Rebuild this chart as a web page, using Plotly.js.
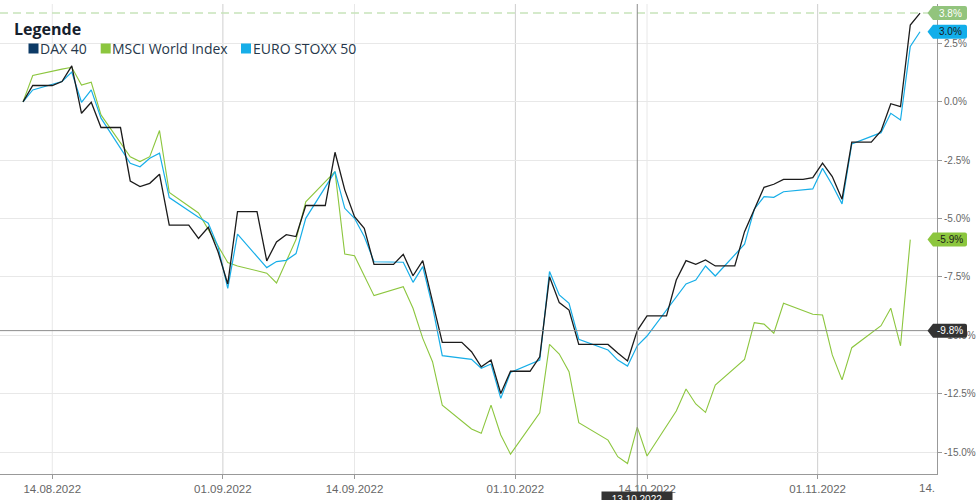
<!DOCTYPE html>
<html>
<head>
<meta charset="utf-8">
<script src="https://cdn.plot.ly/plotly-3.0.1.min.js"></script>
<style>
html,body{margin:0;padding:0;background:#fff;}
#chart{width:980px;height:500px;}
</style>
</head>
<body>
<div id="chart"></div>
<script>
// ---------- DATA ----------
const days = [
 '2022-08-11','2022-08-12','2022-08-13','2022-08-14','2022-08-15','2022-08-16','2022-08-17','2022-08-18','2022-08-19','2022-08-20','2022-08-21',
 '2022-08-22','2022-08-23','2022-08-24','2022-08-25','2022-08-26','2022-08-27','2022-08-28',
 '2022-08-29','2022-08-30','2022-08-31','2022-09-01','2022-09-02','2022-09-03','2022-09-04',
 '2022-09-05','2022-09-06','2022-09-07','2022-09-08','2022-09-09','2022-09-10','2022-09-11',
 '2022-09-12','2022-09-13','2022-09-14','2022-09-15','2022-09-16','2022-09-17','2022-09-18',
 '2022-09-19','2022-09-20','2022-09-21','2022-09-22','2022-09-23','2022-09-24','2022-09-25',
 '2022-09-26','2022-09-27','2022-09-28','2022-09-29','2022-09-30','2022-10-01','2022-10-02',
 '2022-10-03','2022-10-04','2022-10-05','2022-10-06','2022-10-07','2022-10-08','2022-10-09',
 '2022-10-10','2022-10-11','2022-10-12','2022-10-13','2022-10-14','2022-10-15','2022-10-16',
 '2022-10-17','2022-10-18','2022-10-19','2022-10-20','2022-10-21','2022-10-22','2022-10-23',
 '2022-10-24','2022-10-25','2022-10-26','2022-10-27','2022-10-28','2022-10-29','2022-10-30',
 '2022-10-31','2022-11-01','2022-11-02','2022-11-03','2022-11-04','2022-11-05','2022-11-06',
 '2022-11-07','2022-11-08','2022-11-09','2022-11-10','2022-11-11'
];

const dax40 = [
 0, 0.70, 0.70, 0.70, 0.87, 1.54, -0.49, -0.02, -1.10, -1.10, -1.10,
 -3.39, -3.63, -3.49, -3.10, -5.28, -5.28, -5.28,
 -5.85, -5.37, -6.42, -7.80, -4.70, -4.70, -4.70,
 -6.81, -6.00, -5.69, -5.77, -4.44, -4.44, -4.44,
 -2.16, -3.77, -4.92, -5.42, -6.96, -6.96, -6.96,
 -6.53, -7.45, -6.80, -8.49, -10.30, -10.30, -10.30,
 -10.70, -11.35, -11.06, -12.49, -11.54, -11.54, -11.54,
 -10.92, -7.49, -8.60, -8.92, -10.39, -10.39, -10.39,
 -10.39, -10.76, -11.10, -9.80, -9.17, -9.17, -9.17,
 -7.63, -6.80, -6.96, -6.77, -7.03, -7.03, -7.03,
 -5.56, -4.60, -3.66, -3.53, -3.32, -3.32, -3.32,
 -3.25, -2.63, -3.20, -4.17, -1.73, -1.73, -1.73,
 -1.25, -0.08, -0.21, 3.29, 3.80
];

const euroStoxx50 = [
 0, 0.51, null, null, 0.87, 1.27, -0.02, 0.51, -0.70, null, null,
 -2.63, -2.78, -2.42, -2.20, -4.10, null, null,
 -4.94, -5.20, -6.20, -7.99, -5.67, null, null,
 -7.10, -6.84, -6.79, -6.50, -4.99, null, null,
 -2.99, -4.56, -4.99, -5.77, -6.85, null, null,
 -6.87, -7.73, -7.06, -8.77, -10.87, null, null,
 -11.03, -11.41, -11.23, -12.70, -11.59, null, null,
 -11.06, -7.27, -8.27, -8.63, -10.17, null, null,
 -10.63, -11.06, -11.32, -10.45, -10.03, null, null,
 -8.35, -7.80, -7.63, -7.03, -7.46, null, null,
 -6.10, -4.60, -4.06, -4.09, -3.85, null, null,
 -3.73, -2.85, -3.56, -4.37, -1.80, null, null,
 -1.32, -0.49, -0.78, 2.37, 3.00
];

const msciWorld = [
 0, 1.13, null, null, 1.40, 1.48, 0.72, 0.84, -0.56, null, null,
 -2.35, -2.56, -2.35, -1.23, -3.88, null, null,
 -4.76, -5.45, -6.20, -6.88, -7.03, null, null,
 -7.34, -7.76, -6.85, -5.90, -4.28, null, null,
 -2.99, -6.52, -6.59, -7.45, -8.30, null, null,
 -7.92, -8.84, -10.13, -11.13, -12.99, null, null,
 -14.01, -14.20, -12.99, -14.27, -15.09, null, null,
 -13.32, -10.39, -10.80, -11.56, -13.74, null, null,
 -14.49, -15.20, -15.49, -13.93, -15.17, null, null,
 -13.24, -12.30, -12.94, -13.30, -12.13, null, null,
 -11.03, -9.46, -9.52, -9.91, -8.63, null, null,
 -9.10, -9.13, -10.84, -11.91, -10.53, null, null,
 -9.59, -8.84, -10.45, -5.90, null
];

const seriesNames = ['DAX 40', 'MSCI World Index', 'EURO STOXX 50'];
const tickDates  = ['2022-08-14', '2022-08-31 12:00', '2022-09-14', '2022-09-30 12:00', '2022-10-14', '2022-10-31 12:00'];
const tickLabels = ['14.08.2022', '01.09.2022', '14.09.2022', '01.10.2022', '14.10.2022', '01.11.2022'];
const cutTickLabel = '14.';
const yTicks = [2.5, 0, -2.5, -5, -7.5, -10, -12.5, -15];
const crossDate = '2022-10-13';
const crossLabel = '13.10.2022';
const legendTitle = 'Legende';

// ---------- LAYOUT HELPERS ----------
const W = 980, H = 500;
const M = {l: 0, r: 43, t: 4, b: 26};
const PW = W - M.l - M.r, PH = H - M.t - M.b;
const pX = x => (x - M.l) / PW;
const pY = y => (H - M.b - y) / PH;
const fmt = v => v.toFixed(1) + '%';
function lastVal(a){ for (let i = a.length - 1; i >= 0; i--) if (a[i] !== null) return a[i]; return null; }

const C = {dax: '#1b1b1b', daxKey: '#0c3a66', msci: '#8cc63e', stoxx: '#17aee8'};
const FONT = 'Liberation Sans, Arial, sans-serif';
const LFONT = 'Open Sans, sans-serif';

// ---------- TRACES ----------
const traces = [
  {x: days, y: msciWorld, type: 'scatter', mode: 'lines', connectgaps: true, name: seriesNames[1],
   line: {color: C.msci, width: 1.1}, hoverinfo: 'skip'},
  {x: days, y: euroStoxx50, type: 'scatter', mode: 'lines', connectgaps: true, name: seriesNames[2],
   line: {color: C.stoxx, width: 1.2}, hoverinfo: 'skip'},
  {x: days, y: dax40, type: 'scatter', mode: 'lines', connectgaps: true, name: seriesNames[0],
   line: {color: C.dax, width: 1.3}, hoverinfo: 'skip'}
];

// ---------- SHAPES ----------
const shapes = [];
tickDates.forEach((d, i) => {
  const monthStart = tickLabels[i].startsWith('01.');
  shapes.push({type: 'line', xref: 'x', yref: 'paper', x0: d, x1: d, y0: 0, y1: 1, layer: 'below',
    line: {color: monthStart ? '#cfcfcf' : '#e8e8e8', width: 1}});
});
const crossVal = dax40[days.indexOf(crossDate)];
const daxLast = lastVal(dax40), stoxxLast = lastVal(euroStoxx50), msciLast = lastVal(msciWorld);

// dashed line at DAX last value
shapes.push({type: 'line', xref: 'paper', yref: 'y', x0: 0, x1: 1, y0: daxLast, y1: daxLast, layer: 'below',
  line: {color: '#c8e3bb', width: 1.5, dash: '8px,5px'}});
// crosshair
shapes.push({type: 'line', xref: 'x', yref: 'paper', x0: crossDate, x1: crossDate, y0: pY(490), y1: 1,
  line: {color: '#8c8c8c', width: 1}});
shapes.push({type: 'line', xref: 'paper', yref: 'y', x0: 0, x1: 1, y0: crossVal, y1: crossVal,
  line: {color: '#8c8c8c', width: 1}});

// value tags on the right axis
const tagPath = 'M -9.5 0 L -4 -7 L 28 -7 Q 30 -7 30 -5 L 30 5 Q 30 7 28 7 L -4 7 Z';
const tags = [
  {v: daxLast,  fill: '#92c47d', text: '#ffffff'},
  {v: stoxxLast, fill: '#12aeea', text: '#1a1a1a'},
  {v: msciLast, fill: '#8cc63e', text: '#1a1a1a'},
  {v: crossVal, fill: '#333333', text: '#ffffff'}
];
const annotations = [];
tags.forEach(t => {
  shapes.push({type: 'path', xref: 'paper', yref: 'y', xsizemode: 'pixel', ysizemode: 'pixel',
    xanchor: 1, yanchor: t.v, path: tagPath, fillcolor: t.fill, line: {width: 0}, layer: 'above'});
  annotations.push({xref: 'paper', yref: 'y', x: 1, y: t.v, xshift: 13, xanchor: 'center', yanchor: 'middle',
    text: fmt(t.v), showarrow: false, font: {family: FONT, size: 10, color: t.text}});
});

// legend
const legendKeyColors = [C.daxKey, C.msci, C.stoxx];
const legendKeyX = [28.5, 100.7, 241];
const legendTextX = [38.5, 111, 251.5];
seriesNames.forEach((n, i) => {
  shapes.push({type: 'rect', xref: 'paper', yref: 'paper', x0: pX(legendKeyX[i]), x1: pX(legendKeyX[i] + 10),
    y0: pY(53.5), y1: pY(43.5), fillcolor: legendKeyColors[i], line: {width: 0}, layer: 'above'});
  annotations.push({xref: 'paper', yref: 'paper', x: pX(legendTextX[i]), y: pY(48), xanchor: 'left', yanchor: 'middle',
    text: n, showarrow: false, font: {family: LFONT, size: 14, color: '#26374a'}, borderpad: 0});
});
annotations.push({xref: 'paper', yref: 'paper', x: pX(13), y: pY(29), xanchor: 'left', yanchor: 'middle',
  text: legendTitle, showarrow: false, font: {family: LFONT, size: 16, color: '#15202c', weight: 700}, borderpad: 0});

// crosshair date label
annotations.push({xref: 'x', yref: 'paper', x: crossDate, y: pY(490.5), xanchor: 'center', yanchor: 'top',
  text: crossLabel, showarrow: false, bgcolor: '#333333', width: 66, height: 10, borderpad: 2,
  font: {family: FONT, size: 10, color: '#ffffff'}});
// clipped last x tick label
annotations.push({xref: 'paper', yref: 'paper', x: pX(918), y: pY(488), xanchor: 'left', yanchor: 'middle',
  text: cutTickLabel, showarrow: false, borderpad: 0, font: {family: FONT, size: 11.5, color: '#666666'}});

// ---------- LAYOUT ----------
const layout = {
  width: W, height: H,
  margin: M,
  paper_bgcolor: '#ffffff', plot_bgcolor: '#ffffff',
  showlegend: false,
  font: {family: FONT, color: '#666666'},
  xaxis: {
    type: 'date', range: ['2022-08-08 15:23', '2022-11-12 17:46'],
    tickmode: 'array', tickvals: tickDates, ticktext: tickLabels,
    showgrid: false, zeroline: false, showline: true, linecolor: '#999999', linewidth: 1,
    ticks: 'outside', ticklen: 4, tickcolor: '#999999',
    tickfont: {family: FONT, size: 11.5, color: '#666666'}, automargin: false, fixedrange: true
  },
  yaxis: {
    side: 'right', range: [-15.94, 4.19],
    tickmode: 'array', tickvals: yTicks, ticktext: yTicks.map(fmt),
    showgrid: true, gridcolor: '#e8e8e8', gridwidth: 1, zeroline: false,
    showline: true, linecolor: '#999999', linewidth: 1,
    ticks: 'outside', ticklen: 4, tickcolor: '#999999',
    tickfont: {family: FONT, size: 10, color: '#666666'}, automargin: false, fixedrange: true
  },
  shapes: shapes,
  annotations: annotations
};

Plotly.newPlot('chart', traces, layout, {staticPlot: true, displayModeBar: false});
</script>
</body>
</html>
